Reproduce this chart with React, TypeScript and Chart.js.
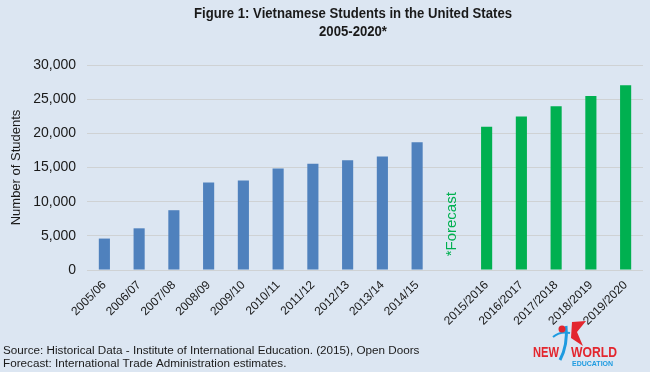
import React, { useEffect, useRef } from "react";
import { Chart, registerables } from "chart.js";

Chart.register(...registerables);

const categories = [
  "2005/06", "2006/07", "2007/08", "2008/09", "2009/10",
  "2010/11", "2011/12", "2012/13", "2013/14", "2014/15",
  "",
  "2015/2016", "2016/2017", "2017/2018", "2018/2019", "2019/2020",
];
const historical = [4600, 6100, 8750, 12800, 13100, 14850, 15550, 16050, 16600, 18700];
const forecast = [20950, 22450, 23950, 25450, 27050];
const yTicks = [0, 5000, 10000, 15000, 20000, 25000, 30000];

const titleLines = ["Figure 1: Vietnamese Students in the United States", "2005-2020*"];
const footerLines = [
  "Source: Historical Data - Institute of International Education. (2015), Open Doors",
  "Forecast: International Trade Administration estimates.",
];
const forecastLabel = "*Forecast";
const forecastGapIndex = historical.length;

const BG = "#dce6f2";
const BLUE = "#4f81bd";
const GREEN = "#00b050";
const TEXT = "#1a1a1a";
const NARROW = "'Liberation Sans Narrow', 'Arial Narrow', 'Liberation Sans', Arial, sans-serif";
const SANS = "'Liberation Sans', Arial, sans-serif";

const histData = categories.map((_, i) => (i < historical.length ? historical[i] : null));
const foreData = categories.map((_, i) =>
  i > forecastGapIndex ? forecast[i - forecastGapIndex - 1] : null
);

const extrasPlugin = {
  id: "extras",
  afterDraw(chart: any) {
    const ctx = chart.ctx as CanvasRenderingContext2D;
    ctx.save();
    // Title (condensed bold)
    ctx.fillStyle = TEXT;
    ctx.textAlign = "center";
    ctx.textBaseline = "middle";
    ctx.font = `bold 14px ${NARROW}`;
    const w0 = ctx.measureText(titleLines[0]).width;
    const squeeze = Math.min(1, 318 / w0);
    ctx.fillText(titleLines[0], 353, 14, w0 * squeeze);
    const w1 = ctx.measureText(titleLines[1]).width;
    ctx.fillText(titleLines[1], 353, 32, w1 * squeeze);

    // Forecast label
    const xs = chart.scales.x;
    const ys = chart.scales.y;
    const fx = xs.getPixelForValue(forecastGapIndex);
    const fy = ys.getPixelForValue(6700);
    ctx.save();
    ctx.translate(fx, fy);
    ctx.rotate(-Math.PI / 2);
    ctx.fillStyle = GREEN;
    ctx.font = `15px ${SANS}`;
    ctx.textAlign = "center";
    ctx.textBaseline = "middle";
    ctx.fillText(forecastLabel, 0, 0);
    ctx.restore();

    // Footer
    ctx.textAlign = "left";
    ctx.textBaseline = "middle";
    ctx.fillStyle = TEXT;
    ctx.font = `11.7px ${SANS}`;
    ctx.fillText(footerLines[0], 3, 351);
    ctx.fillText(footerLines[1], 3, 364);

    // Logo
    ctx.fillStyle = "#e3262e";
    ctx.font = `bold 15px ${NARROW}`;
    ctx.textAlign = "left";
    ctx.fillText("NEW", 533, 353, 26);
    ctx.fillText("WORLD", 571, 353, 46);
    ctx.fillStyle = "#1e9be0";
    ctx.font = `bold 7px ${SANS}`;
    ctx.fillText("EDUCATION", 572, 364, 44);
    // figure swoosh
    ctx.strokeStyle = "#1e9be0";
    ctx.lineWidth = 3;
    ctx.beginPath();
    ctx.moveTo(560, 360);
    ctx.quadraticCurveTo(568, 345, 566, 326);
    ctx.stroke();
    ctx.lineWidth = 2;
    ctx.beginPath();
    ctx.moveTo(553, 337);
    ctx.quadraticCurveTo(560, 331, 570, 333);
    ctx.stroke();
    ctx.fillStyle = "#e3262e";
    ctx.beginPath();
    ctx.arc(562, 329, 3.5, 0, Math.PI * 2);
    ctx.fill();
    // red star-like shape
    ctx.beginPath();
    ctx.moveTo(572, 322);
    ctx.lineTo(586, 321);
    ctx.lineTo(577, 332);
    ctx.lineTo(583, 346);
    ctx.lineTo(571, 338);
    ctx.closePath();
    ctx.fill();
    ctx.restore();
  },
};

export default function App() {
  const canvasRef = useRef<HTMLCanvasElement | null>(null);

  useEffect(() => {
    document.body.style.margin = "0";
    const canvas = canvasRef.current;
    if (!canvas) return;
    const chart = new Chart(canvas, {
      type: "bar",
      data: {
        labels: categories,
        datasets: [
          {
            label: "Historical",
            data: histData,
            backgroundColor: BLUE,
            barPercentage: 0.32,
            categoryPercentage: 1,
            grouped: false,
          },
          {
            label: "Forecast",
            data: foreData,
            backgroundColor: GREEN,
            barPercentage: 0.32,
            categoryPercentage: 1,
            grouped: false,
          },
        ],
      },
      options: {
        animation: false,
        responsive: false,
        maintainAspectRatio: false,
        layout: { padding: { top: 65, right: 7, left: 0, bottom: 0 } },
        plugins: {
          legend: { display: false },
          tooltip: { enabled: false },
          title: { display: false },
        },
        scales: {
          x: {
            grid: { display: false, drawTicks: false },
            border: { display: false },
            ticks: {
              autoSkip: false,
              minRotation: 45,
              maxRotation: 45,
              padding: 8,
              color: TEXT,
              font: { family: SANS, size: 12 },
            },
            afterFit: (scale: any) => {
              scale.height = 102;
            },
          },
          y: {
            min: 0,
            max: 30000,
            afterBuildTicks: (scale: any) => {
              scale.ticks = yTicks.map((v) => ({ value: v }));
            },
            grid: { color: "#cfd2d4", drawTicks: false, lineWidth: 1 },
            border: { display: false },
            ticks: {
              padding: 11,
              color: TEXT,
              font: { family: SANS, size: 14 },
              callback: (v: any) => Number(v).toLocaleString("en-US"),
            },
            title: {
              display: true,
              text: "Number of Students",
              color: TEXT,
              font: { family: SANS, size: 13 },
              padding: { top: 9, bottom: 0 },
            },
            afterFit: (scale: any) => {
              scale.width = 87;
            },
          },
        },
      },
      plugins: [extrasPlugin],
    });
    return () => chart.destroy();
  }, []);

  return (
    <div style={{ width: 650, height: 372, background: BG, position: "relative" }}>
      <canvas ref={canvasRef} width={650} height={372} style={{ display: "block" }} />
    </div>
  );
}
